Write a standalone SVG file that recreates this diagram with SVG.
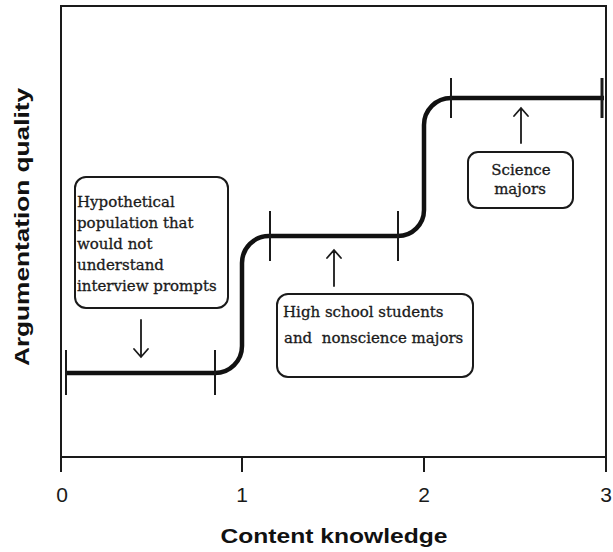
<svg xmlns="http://www.w3.org/2000/svg" width="613" height="552" viewBox="0 0 613 552">
<defs>
<style>
.frame{fill:none;stroke:#1a1a1a;stroke-width:2}
.step{fill:none;stroke:#111;stroke-width:4.5;stroke-linejoin:round}
.tick{stroke:#1a1a1a;stroke-width:2}
.box{fill:#fff;stroke:#1a1a1a;stroke-width:2}
.btxt{font-family:"DejaVu Serif","Liberation Serif",serif;font-size:15px;fill:#1a1a1a;stroke:#1a1a1a;stroke-width:0.3}
.axt{font-family:"Liberation Sans",Arial,sans-serif;font-size:21px;fill:#1a1a1a}
.axl{font-family:"Liberation Sans",Arial,sans-serif;font-size:21px;font-weight:bold;fill:#111}
.arr{fill:none;stroke:#1a1a1a;stroke-width:1.8;stroke-linecap:round;stroke-linejoin:miter}
</style>
</defs>
<rect width="613" height="552" fill="#fff"/>
<g id="axes">
<rect class="frame" x="61" y="6" width="545" height="451"/>
<line class="tick" x1="61" y1="457" x2="61" y2="472"/>
<line class="tick" x1="242" y1="457" x2="242" y2="472"/>
<line class="tick" x1="424" y1="457" x2="424" y2="472"/>
<line class="tick" x1="606" y1="457" x2="606" y2="472"/>
<text class="axt" x="62" y="502" text-anchor="middle">0</text>
<text class="axt" x="242" y="502" text-anchor="middle">1</text>
<text class="axt" x="424" y="502" text-anchor="middle">2</text>
<text class="axt" x="606" y="502" text-anchor="middle">3</text>
<text class="axl" x="334" y="543" text-anchor="middle" textLength="227" lengthAdjust="spacingAndGlyphs">Content knowledge</text>
<text class="axl" transform="translate(29,227) rotate(-90)" x="0" y="0" text-anchor="middle" textLength="278" lengthAdjust="spacingAndGlyphs">Argumentation quality</text>
</g>
<g id="connectors">
<path class="step" d="M66 373 H215 A27 27 0 0 0 242 346 V263 A27 27 0 0 1 269 236 H398 A26 26 0 0 0 424 210 V125 A27 27 0 0 1 451 98 H604"/>
<line class="tick" x1="66" y1="350" x2="66" y2="395"/>
<line class="tick" x1="215" y1="350" x2="215" y2="395"/>
<line class="tick" x1="270" y1="211" x2="270" y2="261"/>
<line class="tick" x1="398" y1="211" x2="398" y2="261"/>
<line class="tick" x1="451" y1="78" x2="451" y2="118"/>
<line class="tick" x1="602" y1="78" x2="602" y2="118" style="stroke-width:3"/>
<path class="arr" d="M141 320 V357 M134 349 L141 357 L148 349"/>
<path class="arr" d="M334 286 V250 M327 258 L334 250 L341 258"/>
<path class="arr" d="M521 143 V108 M514 116 L521 108 L528 116"/>
</g>
<g id="box-hypothetical">
<rect class="box" x="75" y="177" width="153" height="131" rx="11"/>
<text class="btxt" x="77" y="207">Hypothetical</text>
<text class="btxt" x="77" y="228">population that</text>
<text class="btxt" x="77" y="249">would not</text>
<text class="btxt" x="77" y="270">understand</text>
<text class="btxt" x="77" y="291">interview prompts</text>
</g>
<g id="box-highschool">
<rect class="box" x="277" y="294" width="196" height="83" rx="11"/>
<text class="btxt" x="283" y="317">High school students</text>
<text class="btxt" x="284" y="343" xml:space="preserve">and  nonscience majors</text>
</g>
<g id="box-science">
<rect class="box" x="468" y="152" width="105" height="56" rx="10"/>
<text class="btxt" x="521" y="175" text-anchor="middle">Science</text>
<text class="btxt" x="520" y="194" text-anchor="middle">majors</text>
</g>
</svg>
